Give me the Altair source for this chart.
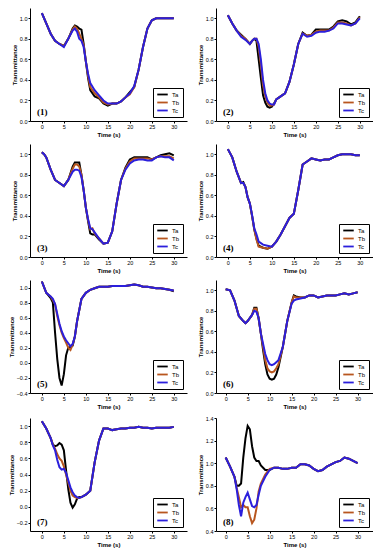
import altair as alt
import pandas as pd

SERIES = ["Ta", "Tb", "Tc"]
COLORS = ["#000000", "#b8561e", "#2b1fdc"]
X_TICKS = [0, 5, 10, 15, 20, 25, 30]

# ---- Panel 1 ----
T1 = [0, 1, 2, 3, 4, 5, 6, 7, 7.5, 8, 8.5, 9, 9.5, 10, 10.5, 11, 12, 13, 14, 15, 16, 17, 18, 19, 20, 21, 22, 23, 24, 25, 26, 27, 28, 29, 30]
Ta1 = [1.05, 0.95, 0.85, 0.78, 0.75, 0.73, 0.80, 0.90, 0.93, 0.92, 0.90, 0.89, 0.75, 0.58, 0.42, 0.30, 0.24, 0.22, 0.17, 0.15, 0.17, 0.17, 0.19, 0.23, 0.28, 0.33, 0.50, 0.72, 0.90, 0.98, 1.00, 1.00, 1.00, 1.00, 1.00]
Tb1 = [1.05, 0.95, 0.85, 0.78, 0.75, 0.73, 0.80, 0.89, 0.92, 0.90, 0.85, 0.80, 0.74, 0.58, 0.44, 0.33, 0.27, 0.23, 0.18, 0.16, 0.17, 0.17, 0.19, 0.23, 0.26, 0.33, 0.50, 0.72, 0.90, 0.98, 1.00, 1.00, 1.00, 1.00, 1.00]
Tc1 = [1.05, 0.95, 0.85, 0.78, 0.75, 0.72, 0.80, 0.88, 0.90, 0.87, 0.80, 0.78, 0.72, 0.58, 0.46, 0.37, 0.30, 0.25, 0.20, 0.17, 0.17, 0.17, 0.19, 0.23, 0.27, 0.34, 0.50, 0.72, 0.90, 0.98, 1.00, 1.00, 1.00, 1.00, 1.00]

# ---- Panel 2 ----
T2 = [0, 1, 2, 3, 4, 5, 5.5, 6, 6.5, 7, 7.5, 8, 8.5, 9, 9.5, 10, 10.5, 11, 12, 13, 14, 15, 16, 17, 18, 19, 20, 21, 22, 23, 24, 25, 26, 27, 28, 29, 30]
Ta2 = [1.03, 0.95, 0.88, 0.84, 0.80, 0.75, 0.78, 0.80, 0.78, 0.60, 0.42, 0.25, 0.18, 0.14, 0.13, 0.14, 0.17, 0.21, 0.24, 0.27, 0.38, 0.55, 0.75, 0.86, 0.83, 0.84, 0.89, 0.89, 0.89, 0.89, 0.92, 0.97, 0.98, 0.97, 0.94, 0.96, 1.02]
Tb2 = [1.03, 0.95, 0.88, 0.83, 0.80, 0.75, 0.78, 0.80, 0.80, 0.72, 0.55, 0.35, 0.24, 0.18, 0.15, 0.15, 0.16, 0.21, 0.24, 0.27, 0.38, 0.55, 0.75, 0.85, 0.83, 0.84, 0.87, 0.88, 0.88, 0.88, 0.91, 0.96, 0.96, 0.95, 0.93, 0.95, 1.01]
Tc2 = [1.03, 0.95, 0.88, 0.82, 0.79, 0.75, 0.78, 0.80, 0.80, 0.75, 0.60, 0.40, 0.27, 0.20, 0.17, 0.16, 0.16, 0.21, 0.24, 0.27, 0.38, 0.55, 0.75, 0.85, 0.82, 0.83, 0.86, 0.87, 0.87, 0.88, 0.90, 0.95, 0.95, 0.94, 0.93, 0.95, 1.00]

# ---- Panel 3 ----
T3 = [0, 0.5, 1, 2, 3, 4, 5, 6, 7, 7.5, 8, 8.5, 9, 9.5, 10, 10.5, 11, 11.5, 12, 13, 14, 15, 16, 17, 18, 19, 20, 21, 22, 23, 24, 25, 26, 27, 28, 29, 30]
Ta3 = [1.02, 1.00, 0.97, 0.85, 0.75, 0.72, 0.69, 0.75, 0.88, 0.92, 0.92, 0.92, 0.80, 0.65, 0.48, 0.35, 0.23, 0.22, 0.22, 0.17, 0.13, 0.14, 0.25, 0.52, 0.75, 0.87, 0.95, 0.97, 0.97, 0.97, 0.97, 0.95, 0.97, 0.99, 1.00, 1.01, 0.99]
Tb3 = [1.02, 1.00, 0.97, 0.85, 0.75, 0.72, 0.69, 0.75, 0.86, 0.90, 0.90, 0.88, 0.80, 0.65, 0.48, 0.36, 0.27, 0.28, 0.23, 0.18, 0.13, 0.14, 0.25, 0.52, 0.75, 0.86, 0.93, 0.96, 0.96, 0.96, 0.96, 0.95, 0.97, 0.98, 0.98, 0.98, 0.96]
Tc3 = [1.02, 1.00, 0.97, 0.85, 0.75, 0.72, 0.69, 0.75, 0.83, 0.85, 0.85, 0.84, 0.78, 0.65, 0.48, 0.37, 0.28, 0.27, 0.24, 0.18, 0.13, 0.14, 0.25, 0.52, 0.75, 0.85, 0.91, 0.94, 0.95, 0.95, 0.94, 0.94, 0.97, 0.98, 0.97, 0.97, 0.94]

# ---- Panel 4 ----
T4 = [0, 1, 2, 3, 3.5, 4, 4.5, 5, 5.5, 6, 6.5, 7, 8, 9, 10, 11, 12, 13, 14, 15, 16, 17, 18, 19, 20, 21, 22, 23, 24, 25, 26, 27, 28, 29, 30]
Ta4 = [1.05, 0.97, 0.83, 0.72, 0.73, 0.68, 0.58, 0.52, 0.40, 0.27, 0.18, 0.11, 0.09, 0.08, 0.10, 0.15, 0.22, 0.30, 0.38, 0.42, 0.65, 0.90, 0.93, 0.96, 0.95, 0.94, 0.95, 0.95, 0.97, 0.99, 1.00, 1.00, 1.00, 0.99, 0.99]
Tb4 = [1.05, 0.97, 0.83, 0.72, 0.72, 0.68, 0.58, 0.52, 0.40, 0.27, 0.17, 0.10, 0.09, 0.08, 0.10, 0.15, 0.22, 0.30, 0.38, 0.42, 0.65, 0.90, 0.93, 0.96, 0.95, 0.94, 0.95, 0.95, 0.97, 0.99, 1.00, 1.00, 1.00, 0.99, 0.99]
Tc4 = [1.05, 0.97, 0.83, 0.72, 0.72, 0.68, 0.58, 0.52, 0.41, 0.28, 0.22, 0.15, 0.12, 0.11, 0.10, 0.15, 0.22, 0.30, 0.38, 0.42, 0.65, 0.90, 0.93, 0.96, 0.95, 0.94, 0.95, 0.95, 0.97, 0.99, 1.00, 1.00, 1.00, 0.99, 0.99]

# ---- Panel 5 ----
T5 = [0, 1, 2, 2.5, 3, 3.5, 4, 4.5, 5, 5.5, 6, 6.5, 7, 7.5, 8, 9, 10, 11, 12, 13, 14, 15, 16, 17, 18, 19, 20, 21, 22, 23, 24, 25, 26, 27, 28, 29, 30]
Ta5 = [1.08, 0.93, 0.86, 0.80, 0.40, 0.05, -0.20, -0.30, -0.15, 0.10, 0.20, 0.21, 0.23, 0.35, 0.55, 0.85, 0.93, 0.97, 0.99, 1.01, 1.01, 1.01, 1.02, 1.02, 1.02, 1.02, 1.03, 1.04, 1.03, 1.01, 1.01, 1.00, 0.99, 0.99, 0.98, 0.97, 0.95]
Tb5 = [1.08, 0.93, 0.88, 0.83, 0.78, 0.62, 0.50, 0.40, 0.33, 0.27, 0.20, 0.17, 0.24, 0.35, 0.55, 0.85, 0.93, 0.97, 0.99, 1.01, 1.01, 1.01, 1.02, 1.02, 1.02, 1.02, 1.03, 1.04, 1.03, 1.01, 1.01, 1.00, 0.99, 0.99, 0.98, 0.97, 0.96]
Tc5 = [1.08, 0.93, 0.88, 0.85, 0.78, 0.65, 0.52, 0.42, 0.35, 0.30, 0.26, 0.22, 0.25, 0.35, 0.55, 0.85, 0.93, 0.97, 0.99, 1.01, 1.01, 1.01, 1.02, 1.02, 1.02, 1.02, 1.03, 1.04, 1.03, 1.01, 1.01, 1.00, 0.99, 0.99, 0.98, 0.97, 0.96]

# ---- Panel 6 ----
T6 = [0, 1, 2, 3, 4, 4.5, 5, 6, 6.5, 7, 7.5, 8, 8.5, 9, 9.5, 10, 10.5, 11, 11.5, 12, 13, 14, 15, 15.5, 16, 17, 18, 19, 20, 21, 22, 23, 24, 25, 26, 27, 28, 29, 30]
Ta6 = [1.01, 1.00, 0.90, 0.75, 0.70, 0.68, 0.70, 0.76, 0.83, 0.83, 0.72, 0.58, 0.42, 0.28, 0.18, 0.14, 0.13, 0.14, 0.18, 0.25, 0.45, 0.70, 0.88, 0.95, 0.94, 0.93, 0.93, 0.95, 0.95, 0.93, 0.94, 0.95, 0.95, 0.95, 0.96, 0.97, 0.96, 0.97, 0.98]
Tb6 = [1.01, 1.00, 0.90, 0.75, 0.70, 0.68, 0.70, 0.76, 0.82, 0.82, 0.73, 0.58, 0.45, 0.32, 0.24, 0.21, 0.20, 0.21, 0.24, 0.28, 0.45, 0.70, 0.88, 0.94, 0.93, 0.93, 0.93, 0.95, 0.95, 0.93, 0.94, 0.95, 0.95, 0.95, 0.96, 0.97, 0.96, 0.97, 0.98]
Tc6 = [1.01, 1.00, 0.90, 0.75, 0.70, 0.68, 0.70, 0.76, 0.80, 0.79, 0.73, 0.58, 0.48, 0.38, 0.32, 0.28, 0.27, 0.28, 0.30, 0.32, 0.45, 0.70, 0.87, 0.90, 0.91, 0.92, 0.93, 0.95, 0.95, 0.93, 0.94, 0.95, 0.95, 0.95, 0.96, 0.97, 0.96, 0.97, 0.98]

# ---- Panel 7 ----
T7 = [0, 1, 2, 2.5, 3, 3.5, 4, 4.5, 5, 5.5, 6, 6.5, 7, 7.5, 8, 8.5, 9, 10, 11, 12, 13, 14, 15, 16, 17, 18, 19, 20, 21, 22, 23, 24, 25, 26, 27, 28, 29, 30]
Ta7 = [1.06, 0.97, 0.85, 0.77, 0.75, 0.76, 0.79, 0.77, 0.70, 0.45, 0.22, 0.05, -0.01, 0.03, 0.10, 0.12, 0.12, 0.15, 0.20, 0.55, 0.82, 0.97, 0.97, 0.95, 0.96, 0.97, 0.97, 0.98, 0.98, 0.99, 0.98, 0.98, 0.97, 0.98, 0.98, 0.98, 0.98, 0.99]
Tb7 = [1.06, 0.97, 0.85, 0.77, 0.72, 0.65, 0.60, 0.57, 0.50, 0.40, 0.30, 0.20, 0.14, 0.12, 0.11, 0.11, 0.12, 0.15, 0.20, 0.55, 0.82, 0.97, 0.97, 0.95, 0.96, 0.97, 0.97, 0.98, 0.98, 0.99, 0.98, 0.98, 0.97, 0.98, 0.98, 0.98, 0.98, 0.99]
Tc7 = [1.06, 0.97, 0.85, 0.76, 0.70, 0.58, 0.49, 0.46, 0.47, 0.42, 0.33, 0.24, 0.18, 0.14, 0.12, 0.11, 0.12, 0.15, 0.20, 0.55, 0.82, 0.97, 0.97, 0.95, 0.96, 0.97, 0.97, 0.98, 0.98, 0.99, 0.98, 0.98, 0.97, 0.98, 0.98, 0.98, 0.98, 0.99]

# ---- Panel 8 ----
T8 = [0, 1, 2, 2.5, 3, 3.5, 4, 4.5, 5, 5.5, 6, 6.5, 7, 7.5, 8, 9, 10, 11, 12, 13, 14, 15, 16, 17, 18, 19, 20, 21, 22, 23, 24, 25, 26, 27, 28, 29, 30]
Ta8 = [1.05, 0.97, 0.88, 0.80, 0.80, 0.82, 1.05, 1.22, 1.33, 1.30, 1.15, 1.05, 1.02, 1.02, 0.98, 0.94, 0.94, 0.96, 0.96, 0.95, 0.95, 0.96, 0.96, 0.99, 0.99, 0.98, 0.95, 0.93, 0.94, 0.97, 0.99, 1.01, 1.02, 1.05, 1.04, 1.02, 1.00]
Tb8 = [1.05, 0.97, 0.88, 0.78, 0.70, 0.61, 0.63, 0.61, 0.61, 0.53, 0.47, 0.50, 0.60, 0.75, 0.82, 0.90, 0.95, 0.96, 0.96, 0.95, 0.95, 0.96, 0.96, 0.99, 0.99, 0.98, 0.95, 0.93, 0.94, 0.97, 0.99, 1.01, 1.02, 1.05, 1.04, 1.02, 1.00]
Tc8 = [1.05, 0.97, 0.88, 0.77, 0.63, 0.53, 0.65, 0.70, 0.74, 0.68, 0.62, 0.61, 0.63, 0.72, 0.80, 0.88, 0.94, 0.96, 0.96, 0.95, 0.95, 0.96, 0.96, 0.99, 0.99, 0.98, 0.95, 0.93, 0.94, 0.97, 0.99, 1.01, 1.02, 1.05, 1.04, 1.02, 1.00]

PANELS = [
    ("(1)", T1, Ta1, Tb1, Tc1, [0, 1.1], [0, 0.2, 0.4, 0.6, 0.8, 1.0], [-2.7, 33]),
    ("(2)", T2, Ta2, Tb2, Tc2, [0, 1.1], [0, 0.2, 0.4, 0.6, 0.8, 1.0], [-2.7, 33]),
    ("(3)", T3, Ta3, Tb3, Tc3, [0, 1.1], [0, 0.2, 0.4, 0.6, 0.8, 1.0], [-2.7, 33]),
    ("(4)", T4, Ta4, Tb4, Tc4, [0, 1.1], [0, 0.2, 0.4, 0.6, 0.8, 1.0], [-2.7, 33]),
    ("(5)", T5, Ta5, Tb5, Tc5, [-0.4, 1.1], [-0.4, -0.2, 0, 0.2, 0.4, 0.6, 0.8, 1.0], [-2.7, 33]),
    ("(6)", T6, Ta6, Tb6, Tc6, [0, 1.1], [0, 0.2, 0.4, 0.6, 0.8, 1.0], [-2.2, 33.5]),
    ("(7)", T7, Ta7, Tb7, Tc7, [-0.3, 1.1], [-0.2, 0, 0.2, 0.4, 0.6, 0.8, 1.0], [-2.7, 33]),
    ("(8)", T8, Ta8, Tb8, Tc8, [0.4, 1.4], [0.4, 0.6, 0.8, 1.0, 1.2, 1.4], [-2.2, 33.5]),
]

W, H = 157, 113


def make_panel(label, t, ta, tb, tc, ydom, yticks, xdom):
    rows = []
    for name, vals in zip(SERIES, [ta, tb, tc]):
        for ti, v in zip(t, vals):
            rows.append({"t": ti, "v": v, "s": name})
    df = pd.DataFrame(rows)
    lines = alt.Chart(df).mark_line(strokeWidth=2, clip=True).encode(
        x=alt.X("t:Q", scale=alt.Scale(domain=xdom, nice=False, zero=False),
                axis=alt.Axis(values=X_TICKS, title="Time (s)", format="d")),
        y=alt.Y("v:Q", scale=alt.Scale(domain=ydom, nice=False, zero=False),
                axis=alt.Axis(values=yticks, title="Transmittance", format=".1f")),
        color=alt.Color("s:N",
                        scale=alt.Scale(domain=SERIES, range=COLORS),
                        legend=alt.Legend(title=None, orient="bottom-right", offset=4,
                                          strokeColor="black", fillColor="white",
                                          padding=3, rowPadding=1, clipHeight=7,
                                          symbolType="stroke", symbolSize=110,
                                          symbolStrokeWidth=1.8, labelFontSize=6,
                                          labelOffset=3, labelFont="Liberation Sans")),
        order="s:N",
    )
    txt = alt.Chart(pd.DataFrame({"l": [label]})).mark_text(
        align="left", baseline="bottom", font="Liberation Serif",
        fontSize=9, fontWeight="bold", color="black"
    ).encode(x=alt.value(7), y=alt.value(H - 4), text="l:N")
    return alt.layer(lines, txt).properties(width=W, height=H)


charts = [make_panel(*p) for p in PANELS]

chart = alt.concat(*charts, columns=2, spacing={"row": 6, "column": 10}).resolve_scale(
    color="independent"
).properties(padding=0).configure_view(strokeWidth=0).configure_axis(
    grid=False, domainColor="black", domainWidth=1, tickColor="black", tickSize=2,
    labelFontSize=5.5, labelColor="black", labelFont="Liberation Sans", labelPadding=1,
    titleFontSize=6, titleFont="Liberation Sans", titleFontWeight="bold",
    titleColor="black", titlePadding=2
)

chart.save("out.html", embed_options={"renderer": "svg", "actions": False})
